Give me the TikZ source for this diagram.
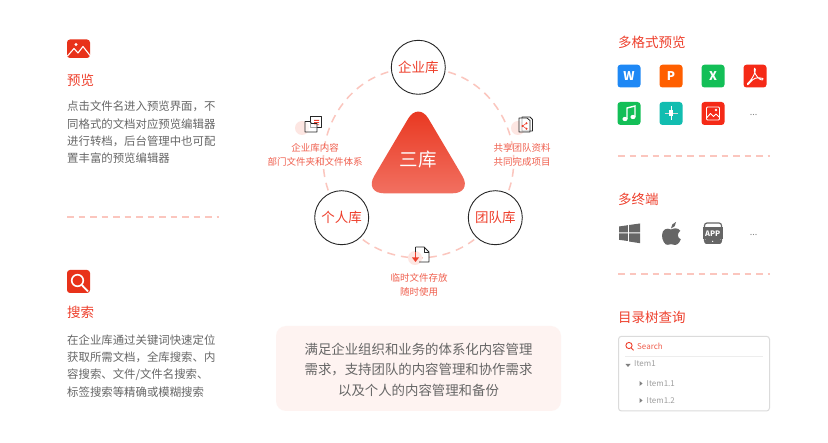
\documentclass[tikz,border=0pt]{standalone}
\usepackage{fontspec}
\setmainfont{Noto Sans CJK SC}
\usetikzlibrary{shapes.geometric}
\definecolor{rd}{HTML}{EE3F2C}
\definecolor{rdk}{HTML}{E8321A}
\definecolor{rlab}{HTML}{F0604F}
\definecolor{dsh}{HTML}{FBC6BE}
\definecolor{gtx}{HTML}{666666}
\definecolor{pinkc}{HTML}{FDE6E2}
\definecolor{icg}{HTML}{666666}
\definecolor{pale}{HTML}{FEF3F1}
\definecolor{cblue}{HTML}{1E88F5}
\definecolor{corange}{HTML}{FF5F00}
\definecolor{cgreen}{HTML}{13BF57}
\definecolor{cred}{HTML}{F52A17}
\definecolor{cteal}{HTML}{12BDB0}
\tikzset{
 txt/.style={inner sep=0pt,text=#1},
 title/.style={txt=rd,anchor=west,font=\fontsize{13.5}{16}\selectfont},
 para/.style={txt=gtx,anchor=north west,align=left,font=\fontsize{11.4}{17.4}\selectfont},
 lab/.style={txt=rlab,align=center,font=\fontsize{9.5}{14.2}\selectfont},
 lib/.style={circle,draw=black!85,line width=.9pt,fill=white,minimum size=54pt,inner sep=0pt,text=rd,font=\fontsize{13.5}{16}\selectfont},
 ring/.style={draw=dsh,line width=1.5pt,dash pattern=on 8pt off 6pt,shorten >=3pt,shorten <=3pt},
 sep/.style={draw=dsh,line width=1.3pt,dash pattern=on 6.5pt off 5pt},
 tile/.style={rounded corners=3pt,fill=#1},
 tilet/.style={inner sep=0pt,text=white,font=\fontsize{12}{12}\selectfont\bfseries},
 dots/.style={inner sep=0pt,text=black!50,font=\fontsize{9}{9}\selectfont},
 tree/.style={txt=black!38,anchor=west,font=\fontsize{8}{10}\selectfont},
 ico/.style={draw=black!85,line width=.8pt,fill=white,line join=round},
}
\begin{document}
\begin{tikzpicture}[x=1pt,y=-1pt]
\useasboundingbox[fill=white] (0,0) rectangle (828,443);
% ---------- left column
\fill[tile=rdk] (67,39.5) rectangle (90,58);
\fill[white] (76,44.5) circle (1.6);
\draw[white,line width=1.1pt,line join=round] (67.5,56) -- (74,48.5) -- (78,53) -- (83,46.5) -- (90,55.5);
\node[title] (t1) at (67,80) {预览};
\node[para] (p1) at (67,100.8) {点击文件名进入预览界面，不\\同格式的文档对应预览编辑器\\进行转档，后台管理中也可配\\置丰富的预览编辑器};
\draw[sep] (67,217) -- (219,217);
\fill[tile=rdk] (67,270) rectangle (90,293);
\draw[white,line width=1.6pt] (77.5,280.5) circle (5.8);
\draw[white,line width=1.8pt] (81.8,285) -- (88,291.5);
\node[title] (t2) at (67,312) {搜索};
\node[para] (p2) at (67,334.2) {在企业库通过关键词快速定位\\获取所需文档，全库搜索、内\\容搜索、文件/文件名搜索、\\标签搜索等精确或模糊搜索};
% ---------- centre ring
\node[lib] (qy) at (418.3,67.3) {企业库};
\node[lib] (gr) at (341.7,217.7) {个人库};
\node[lib] (td) at (495.3,217.7) {团队库};
\draw[ring] (qy.-8) to[out=-16.4,in=70.6,looseness=1.01] (td.63);
\draw[ring] (qy.188) to[out=196.4,in=109.4,looseness=1.01] (gr.117);
\draw[ring] (gr.-47) to[out=-37.5,in=217.5,looseness=.95] (td.227);
% triangle
\shade[top color=rdk,bottom color=rlab!90!white,rounded corners=20pt] (418.3,101.5) -- (364,193.3) -- (472.6,193.3) -- cycle;
\node[inner sep=0pt,text=white,font=\fontsize{18.5}{20}\selectfont] (sk) at (418.3,160) {三库};
% small icon left
\fill[pinkc] (302,128) circle (7);
\draw[ico] (310.5,116) rectangle (321,127);
\fill[rd] (314,120) rectangle (319,120.8) (314,122.2) rectangle (319,123) (314,124.4) rectangle (319,125.2);
\draw[ico,fill=white,fill opacity=.6] (305,121.5) -- (310,121.5) -- (311.5,123.5) -- (317,123.5) -- (317,132) -- (305,132) -- cycle;
\node[lab] (l1) at (315,155) {企业库内容\\部门文件夹和文件体系};
% small icon right
\fill[pinkc] (518,128) circle (7);
\draw[ico] (522,117) -- (530,117) -- (532.5,119.5) -- (532.5,131) -- (522,131) -- cycle;
\draw[ico,fill=white,fill opacity=.6] (519,118) -- (527,118) -- (530,120.5) -- (530,132) -- (519,132) -- cycle;
\fill[rd] (522.5,126) circle (1.1) (526.5,123.3) circle (1.1) (526.5,128.7) circle (1.1);
\draw[rd,line width=.5pt] (526.5,123.3) -- (522.5,126) -- (526.5,128.7);
\node[lab] (l2) at (522,155) {共享团队资料\\共同完成项目};
% small icon bottom
\fill[pinkc] (415,258) circle (7);
\draw[ico,fill=none] (415.5,247) -- (424,247) -- (429,252) -- (429,262) -- (419,262);
\draw[ico,fill=none] (415.5,247) -- (415.5,252) (424,247) -- (424,252) -- (429,252);
\draw[rd,line width=1.1pt] (415.5,252) -- (415.5,259);
\fill[rd] (412,257.5) -- (419,257.5) -- (415.5,262) -- cycle;
\node[lab] (l3) at (419,285) {临时文件存放\\随时使用};
% description box
\fill[rounded corners=10pt,fill=pale] (276,326) rectangle (561,411);
\node[txt=gtx,align=center,font=\fontsize{13.4}{20.5}\selectfont] (desc) at (418.5,369.5) {满足企业组织和业务的体系化内容管理\\需求，支持团队的内容管理和协作需求\\以及个人的内容管理和备份};
% ---------- right column
\node[title] (t3) at (618,42) {多格式预览};
\fill[tile=cblue] (617.5,64.7) rectangle (640.5,87.5);
\node[tilet] (w) at (629,76.2) {W};
\fill[tile=corange] (659.5,64.7) rectangle (682.5,87.5);
\node[tilet] (pp) at (671,76.2) {P};
\fill[tile=cgreen] (701.5,64.7) rectangle (724.5,87.5);
\node[tilet] (xx) at (713,76.2) {X};
\fill[tile=cred] (743.5,64.7) rectangle (766.5,87.5);
\draw[white,line width=.9pt,line join=round] (754.5,68) .. controls (757,68) and (754,78) .. (747.5,83.5) .. controls (746.5,85) and (748,85.5) .. (750,82.5) .. controls (753,78.5) and (757,76.5) .. (763,78.5) .. controls (764,80) and (762,80.5) .. (759.5,79) .. controls (757,77) and (753,72) .. (754.5,68);
% row 2
\fill[tile=cgreen] (617.5,102) rectangle (640.5,125);
\draw[white,line width=1.4pt] (627,119) -- (627,108) -- (635,106) -- (635,117);
\fill[white] (625,119) ellipse (2.6 and 2.1) (633,117) ellipse (2.6 and 2.1);
\fill[tile=cteal] (659.5,102) rectangle (682.5,125);
\draw[white!85!black,line width=1pt] (664.5,113.5) -- (677.5,113.5);
\draw[white,line width=1pt] (671,106.5) -- (671,120.5);
\fill[white] (668.8,110.5) rectangle (673.2,116.5);
\fill[tile=cred] (701.5,102) rectangle (724.5,125);
\draw[white,line width=.9pt,rounded corners=1pt] (706.5,107) rectangle (719.5,120);
\draw[white,line width=.9pt,line join=round] (706.5,118) -- (710.5,113.5) -- (713.5,116.5) -- (716,114) -- (719.5,117.5);
\fill[white] (716,110) circle (1.3);
\node[dots] (d1) at (753.5,115) {...};
\draw[sep] (618,156) -- (770,156);
\node[title] (t4) at (618,199) {多终端};
% windows
\fill[icg] (619,226.5) -- (627.8,225.2) -- (627.8,232.3) -- (619,232.3) -- cycle
 (629,225) -- (640,223.5) -- (640,232.3) -- (629,232.3) -- cycle
 (619,233.5) -- (627.8,233.5) -- (627.8,241) -- (619,239.8) -- cycle
 (629,233.5) -- (640,233.5) -- (640,243.2) -- (629,241.5) -- cycle;
% apple
\fill[icg] (671,229.5) .. controls (674,228) and (678,227.5) .. (680.3,230.8) .. controls (677,233) and (677,238) .. (680.8,239.3) .. controls (679,244) and (676,245.5) .. (674,244.8) .. controls (672,244) and (670,244) .. (668,244.8) .. controls (665,245.8) and (662,240) .. (662,235.5) .. controls (662,229) and (667,227.5) .. (671,229.5) -- cycle;
\fill[icg] (671,228.5) .. controls (670.8,225.5) and (673,222.8) .. (676,222) .. controls (676.3,225) and (674,228) .. (671,228.5) -- cycle;
% app
\draw[icg,line width=1.2pt,rounded corners=2.5pt] (704.5,243) rectangle (721.5,223);
\fill[icg] (703,227.5) rectangle (722.5,239.5);
\fill[icg,rounded corners=2pt] (704.5,239) rectangle (721.5,244);
\fill[white] (712.7,241.3) circle (.7);
\node[inner sep=0pt,text=white,font=\fontsize{7.5}{8}\selectfont\bfseries] (app) at (712.7,233.5) {APP};
\node[dots] (d2) at (753.5,235) {...};
\draw[sep] (618,274) -- (770,274);
\node[title] (t5) at (618,317) {目录树查询};
% tree box
\draw[black!14,line width=1pt,rounded corners=3pt,fill=white] (618.5,336.3) rectangle (769.5,411);
\draw[rd,line width=.9pt] (629,345.5) circle (3.1);
\draw[rd,line width=.9pt] (631.3,348) -- (633.5,350.3);
\node[txt=rlab,anchor=west,font=\fontsize{8}{10}\selectfont] (sr) at (637,346.5) {Search};
\draw[black!7,line width=.8pt] (625,356) -- (763,356);
\fill[black!50] (625.5,364) -- (630.5,364) -- (628,367) -- cycle;
\node[tree] (i1) at (634,364) {Item1};
\fill[black!50] (639.5,381) -- (642.5,383.5) -- (639.5,386) -- cycle;
\node[tree] (i2) at (646.5,383.5) {Item1.1};
\fill[black!50] (639.5,398) -- (642.5,400.5) -- (639.5,403) -- cycle;
\node[tree] (i3) at (646.5,400.5) {Item1.2};
\end{tikzpicture}
\end{document}
